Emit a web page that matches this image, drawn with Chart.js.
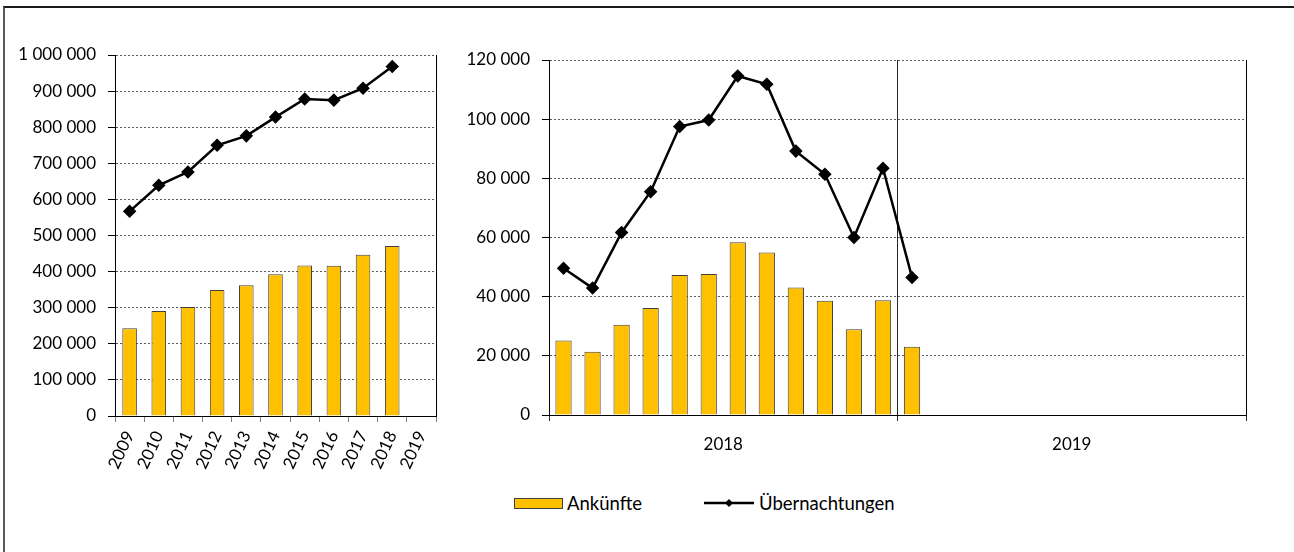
<!DOCTYPE html>
<html lang="de">
<head>
<meta charset="utf-8">
<title>Ankünfte und Übernachtungen</title>
<script src="https://cdn.jsdelivr.net/npm/chart.js@4"></script>
<style>
  html, body { margin: 0; padding: 0; background: #fff; }
  body { width: 1294px; height: 552px; position: relative; overflow: hidden; font-family: Lato, sans-serif; }
  .frame { position: absolute; left: 3px; top: 6px; width: 1400px; height: 600px; border-left: 2px solid #595959; border-top: 2px solid #1a1a1a; }
  .box { position: absolute; top: 0; height: 480px; }
  #yearsBox { left: 5px; width: 445px; }
  #monthsBox { left: 450px; width: 844px; }
  .legend { position: absolute; top: 490px; left: 0; width: 1294px; height: 26px; font-size: 18.5px; color: #000; }
  .legend span { position: absolute; line-height: 26px; }
  .swatch-bar { position: absolute; left: 514px; top: 8px; width: 47px; height: 9px; background: #FFC000; border: 1px solid #404040; }
  .swatch-line { position: absolute; left: 704px; top: 7px; }
</style>
</head>
<body>
<div class="frame"></div>
<div class="box" id="yearsBox"><canvas id="yearsChart"></canvas></div>
<div class="box" id="monthsBox"><canvas id="monthsChart"></canvas></div>
<div class="legend">
  <div class="swatch-bar"></div>
  <span style="left:567px">Ankünfte</span>
  <svg class="swatch-line" width="50" height="12">
    <line x1="0" y1="6" x2="50" y2="6" stroke="#000" stroke-width="2.5"/>
    <polygon points="25,2 29,6 25,10 21,6" fill="#000"/>
  </svg>
  <span style="left:759px">Übernachtungen</span>
</div>

<script>
// Jahreswerte 2009-2019
const years = ['2009', '2010', '2011', '2012', '2013', '2014', '2015', '2016', '2017', '2018', '2019'];
const arrivalsYear = [243000, 291000, 302000, 349000, 362000, 393000, 417000, 416000, 447000, 471000, null];
const nightsYear = [567000, 639000, 676000, 750000, 776000, 828000, 878000, 875000, 908000, 968000, null];
const yearTicks = [0, 100000, 200000, 300000, 400000, 500000, 600000, 700000, 800000, 900000, 1000000];

// Monatswerte 2018 und 2019
const months = ['Jan', 'Feb', 'Mär', 'Apr', 'Mai', 'Jun', 'Jul', 'Aug', 'Sep', 'Okt', 'Nov', 'Dez'];
const monthYears = ['2018', '2019'];
const arrivalsMonth = [25200, 21400, 30500, 36200, 47300, 47700, 58400, 54900, 43100, 38600, 29000, 38800,
    23100, null, null, null, null, null, null, null, null, null, null, null];
const nightsMonth = [49600, 42900, 61700, 75500, 97500, 99700, 114600, 111800, 89200, 81400, 60000, 83400,
    46500, null, null, null, null, null, null, null, null, null, null, null];
const monthTicks = [0, 20000, 40000, 60000, 80000, 100000, 120000];

const FONT = { family: 'Lato, sans-serif', size: 17 };
const BAR_COLOR = '#FFC000';

Chart.defaults.color = '#000';
Chart.defaults.font.family = FONT.family;

// "1 000 000" style
function fmt(v) {
    return String(v).replace(/\B(?=(\d{3})+(?!\d))/g, ' ');
}

function datasets(bars, line, barPct) {
    return [
        {
            type: 'line',
            label: 'Übernachtungen',
            data: line,
            borderColor: '#000',
            borderWidth: 2.5,
            pointStyle: 'rectRot',
            pointRadius: 5,
            pointBackgroundColor: '#000',
            pointBorderColor: '#000',
            tension: 0,
            order: 0
        },
        {
            type: 'bar',
            label: 'Ankünfte',
            data: bars,
            backgroundColor: BAR_COLOR,
            borderColor: '#404040',
            borderWidth: 1,
            categoryPercentage: 1,
            barPercentage: barPct,
            order: 1
        }
    ];
}

function yScale(max, tickValues, width) {
    return {
        min: 0,
        max: max,
        afterBuildTicks: s => { s.ticks = tickValues.map(v => ({ value: v })); },
        afterFit: s => { s.width = width; },
        ticks: { font: FONT, padding: 12, callback: v => fmt(v) },
        grid: {
            color: c => c.tick && c.tick.value === 0 ? 'rgba(0,0,0,0)' : '#595959',
            tickColor: '#000',
            tickLength: 7,
            lineWidth: 1
        },
        border: { display: true, color: '#000', width: 1, dash: [2, 2] }
    };
}

// plot frame on the right side
const rightEdge = {
    position: 'right',
    display: true,
    afterFit: s => { s.width = 0; },
    ticks: { display: false },
    grid: { display: false },
    border: { display: true, color: '#000', width: 1 }
};

new Chart(document.getElementById('yearsChart'), {
    data: { labels: years, datasets: datasets(arrivalsYear, nightsYear, 0.5) },
    options: {
        responsive: true,
        maintainAspectRatio: false,
        animation: false,
        layout: { padding: { top: 55, right: 14, left: 0, bottom: 0 } },
        plugins: { legend: { display: false }, tooltip: { enabled: false } },
        scales: {
            x: {
                afterFit: s => { s.height = 64; },
                ticks: { font: FONT, minRotation: 65, maxRotation: 65, padding: 6 },
                grid: { offset: true, drawOnChartArea: false, tickLength: 6, color: '#7f7f7f' },
                border: { color: '#000', width: 1 }
            },
            y: yScale(1000000, yearTicks, 110),
            yr: rightEdge
        }
    }
});

new Chart(document.getElementById('monthsChart'), {
    data: { labels: months.concat(months), datasets: datasets(arrivalsMonth, nightsMonth, 0.56) },
    options: {
        responsive: true,
        maintainAspectRatio: false,
        animation: false,
        layout: { padding: { top: 60, right: 48, left: 0, bottom: 0 } },
        plugins: { legend: { display: false }, tooltip: { enabled: false } },
        scales: {
            x: { display: false, offset: true },
            x2: {
                type: 'category',
                position: 'bottom',
                labels: monthYears,
                offset: true,
                afterFit: s => { s.height = 65; },
                ticks: { font: FONT, maxRotation: 0, padding: 13 },
                grid: { offset: true, drawOnChartArea: true, tickLength: 6, color: '#262626', lineWidth: 1 },
                border: { color: '#000', width: 1 }
            },
            y: yScale(120000, monthTicks, 99),
            yr: rightEdge
        }
    }
});
</script>
</body>
</html>
